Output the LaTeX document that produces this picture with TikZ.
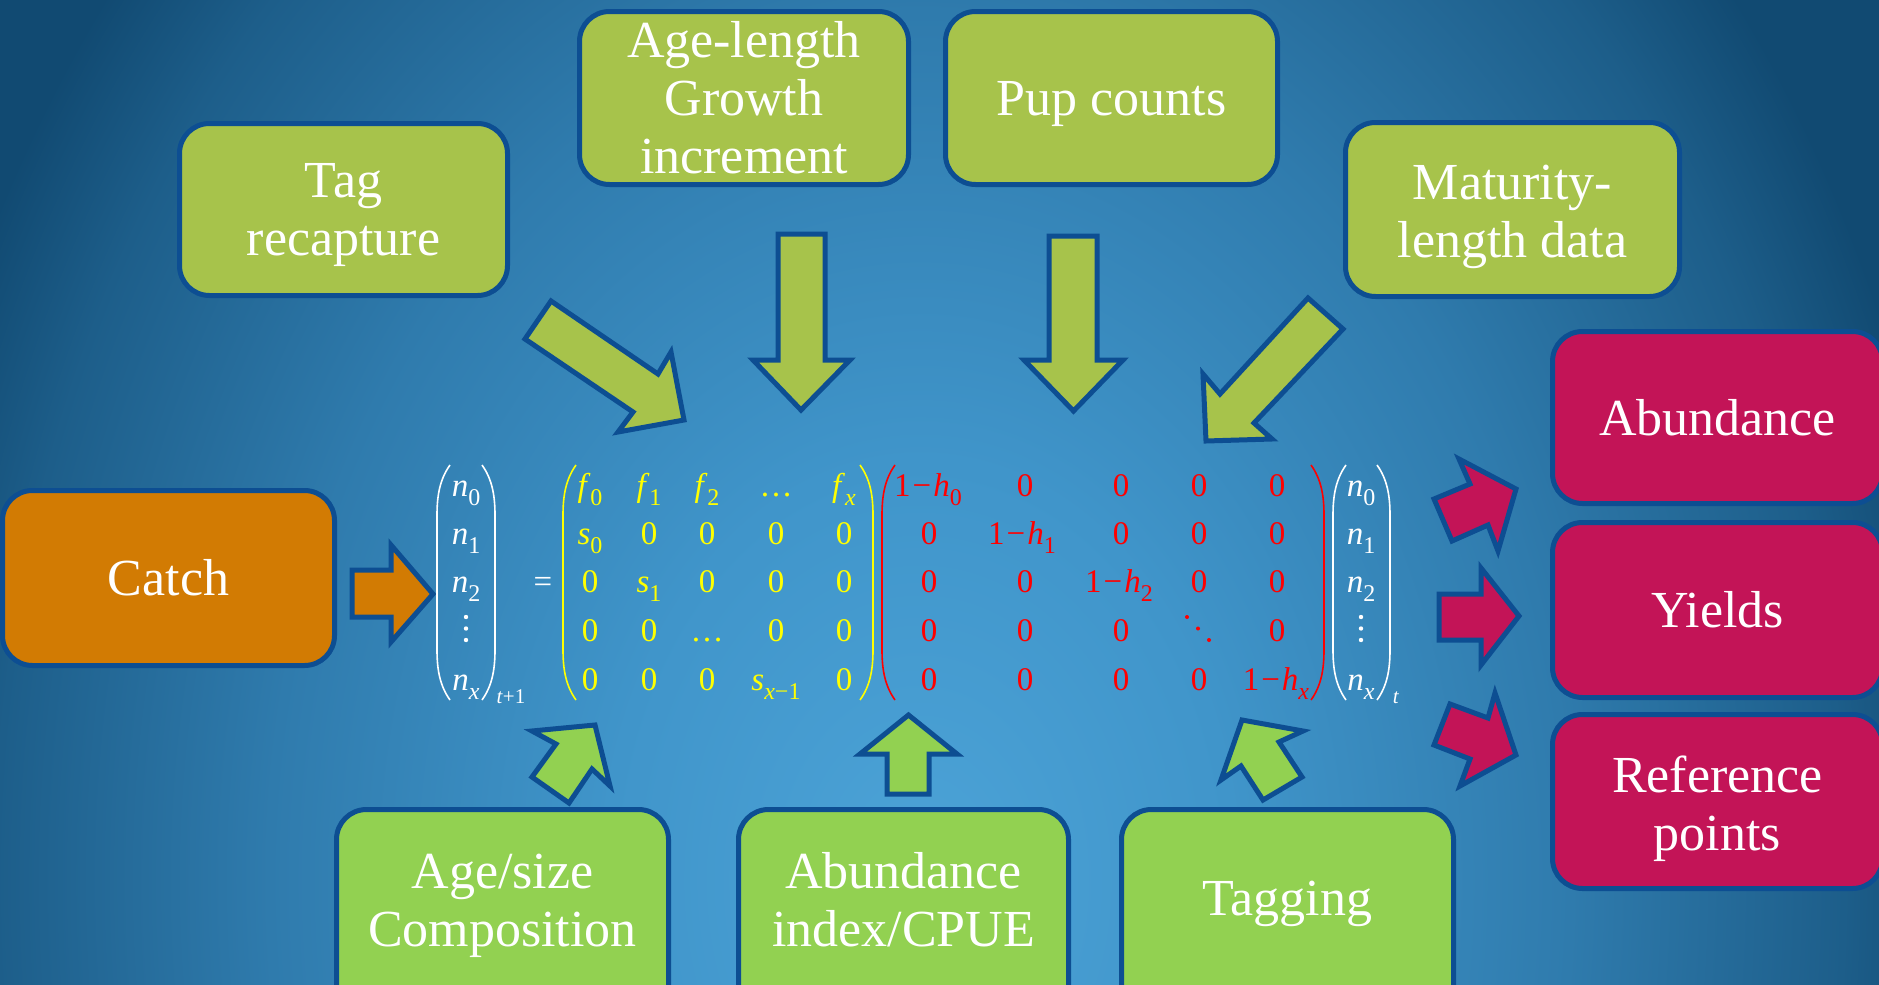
\documentclass[tikz,border=0pt]{standalone}
\usepackage{fontspec}
\setmainfont{Liberation Serif}
\definecolor{bgA}{HTML}{4CA3D7}
\definecolor{bgB}{HTML}{4095CA}
\definecolor{bgC}{HTML}{2F7BAD}
\definecolor{bgD}{HTML}{1D5E8A}
\definecolor{bgE}{HTML}{114A72}
\definecolor{bord}{HTML}{0D4E92}
\definecolor{gtop}{HTML}{A7C34B}
\definecolor{gbot}{HTML}{92D151}
\definecolor{orng}{HTML}{D27B03}
\definecolor{mag}{HTML}{C31457}
\definecolor{yel}{HTML}{FFFF00}
\definecolor{rd}{HTML}{FF0000}
\pgfdeclareradialshading{bgshade}{\pgfpoint{0bp}{0bp}}{color(0bp)=(bgA); color(7.5bp)=(bgB); color(15.5bp)=(bgC); color(22bp)=(bgD); color(25bp)=(bgE); color(50bp)=(bgE)}
\newcommand{\sbs}[2]{\textit{#1}\raisebox{-0.3em}{\fontsize{24}{24}\selectfont #2}}
\newcommand{\myLpar}[4]{\draw[#4, line width=1.6pt] (#1+13,#2) .. controls (#1+3,#2+14) and (#1,#2+30) .. (#1,#2+50) -- (#1,#3-50) .. controls (#1,#3-30) and (#1+3,#3-14) .. (#1+13,#3);}
\newcommand{\myRpar}[4]{\draw[#4, line width=1.6pt] (#1-13,#2) .. controls (#1-3,#2+14) and (#1,#2+30) .. (#1,#2+50) -- (#1,#3-50) .. controls (#1,#3-30) and (#1-3,#3-14) .. (#1-13,#3);}
\tikzset{
  box/.style={draw=bord, line width=5pt, rounded corners=30pt, text=white, align=center, inner sep=0pt, font=\fontsize{52}{58}\selectfont},
  txt/.style={text=white, align=center, inner sep=0pt, font=\fontsize{52}{58}\selectfont},
  blk/.style={draw=bord, line width=5pt, line join=miter},
  ent/.style={anchor=base, inner sep=0pt, font=\fontsize{33}{36}\selectfont},
  wht/.style={ent, text=white},
  yl/.style={ent, text=yel},
  rr/.style={ent, text=rd},
}
\begin{document}
\begin{tikzpicture}[x=1pt,y=-1pt]
\useasboundingbox (0,0) rectangle (1879,985);
\clip (0,0) rectangle (1879,985);
\fill[bgE] (0,0) rectangle (1879,985);
\shade[shading=bgshade] (920,880) ellipse [x radius=1050, y radius=1400];

% top boxes
\node[box, fill=gtop, minimum width=328pt, minimum height=172pt] (tagbox) at (343.5,209.5) {};
\node[txt] (tag) at (343.5,215.5) {Tag\\recapture};
\node[box, fill=gtop, minimum width=329pt, minimum height=173pt] (agel) at (744,98) {Age-length\\Growth\\increment};
\node[box, fill=gtop, minimum width=332pt, minimum height=173pt] (pupbox) at (1111.5,98) {};
\node[txt] (pup) at (1111.5,104) {Pup counts};
\node[box, fill=gtop, minimum width=334pt, minimum height=174pt] (matbox) at (1512.5,209.5) {};
\node[txt] (mat) at (1512.5,216.5) {Maturity-\\length data};
% catch
\node[box, fill=orng, minimum width=332pt, minimum height=175pt] (catch) at (168.5,578) {Catch};
% outputs
\node[box, fill=mag, minimum width=330pt, minimum height=172pt] (abund) at (1717.5,417.5) {Abundance};
\node[box, fill=mag, minimum width=330pt, minimum height=175pt] (yields) at (1717.5,610) {Yields};
\node[box, fill=mag, minimum width=330pt, minimum height=174pt] (refbox) at (1717.5,801.5) {};
\node[txt] (refp) at (1717.5,808.5) {Reference\\points};
% bottom boxes
\node[box, fill=gbot, minimum width=332pt, minimum height=220pt] (agebox) at (502.5,919.5) {};
\node[box, fill=gbot, minimum width=330pt, minimum height=220pt] (abibox) at (903.5,919.5) {};
\node[box, fill=gbot, minimum width=332pt, minimum height=220pt] (tgbox) at (1287.5,919.5) {};
\node[txt] (age) at (502.5,906) {Age/size\\Composition};
\node[txt] (abi) at (903.5,900) {Abundance\\index/CPUE};
\node[txt] (tgg) at (1287.5,904) {Tagging};

% block arrows, top
\draw[blk, fill=gtop] (551,301) -- (525,339) -- (633,412) -- (618,432) -- (684,420) -- (671,352) -- (658,374) -- cycle;
\draw[blk, fill=gtop] (778,234) -- (778,360) -- (753,360) -- (801,410) -- (850,360) -- (825,360) -- (825,234) -- cycle;
\draw[blk, fill=gtop] (1049,236) -- (1049,360) -- (1024,360) -- (1073.5,411) -- (1123,360) -- (1097,360) -- (1097,236) -- cycle;
\draw[blk, fill=gtop] (1308,298) -- (1343,329) -- (1254,423) -- (1272,439) -- (1206,441) -- (1203,374) -- (1220,394) -- cycle;
% catch arrow
\draw[blk, fill=orng] (352,570) -- (391,570) -- (391,545) -- (433,594) -- (391,642) -- (391,617) -- (352,617) -- cycle;
% bottom arrows
\draw[blk, fill=gbot] (595,725) -- (532,731) -- (556,744) -- (532,777) -- (569,803) -- (592,769) -- (610,786) -- cycle;
\draw[blk, fill=gbot] (908.5,715) -- (957,754) -- (929,754) -- (929,794) -- (887,794) -- (887,754) -- (860,754) -- cycle;
\draw[blk, fill=gbot] (1242,720) -- (1303,731) -- (1279,742) -- (1302,777) -- (1263,800) -- (1241,766) -- (1221,780) -- cycle;
% output arrows
\draw[blk, fill=mag] (1516,489) -- (1498,551) -- (1488,525) -- (1452,541) -- (1434,499) -- (1470,484) -- (1459,459) -- cycle;
\draw[blk, fill=mag] (1519,616) -- (1481,665) -- (1481,640) -- (1439,640) -- (1439,594) -- (1481,594) -- (1481,568) -- cycle;
\draw[blk, fill=mag] (1516,755) -- (1460,786) -- (1470,759) -- (1434,745) -- (1450,704) -- (1488,718) -- (1495,693) -- cycle;

% matrix equation
\myLpar{437}{465}{700}{white}
\myRpar{495}{465}{700}{white}
\myLpar{563}{465}{700}{yel}
\myRpar{873}{465}{700}{yel}
\myLpar{882}{465}{700}{rd}
\myRpar{1324}{465}{700}{rd}
\myLpar{1333}{465}{700}{white}
\myRpar{1390}{465}{700}{white}

\node[wht] (l1) at (466,496) {\sbs{n}{0}};
\node[wht] (l2) at (466,544) {\sbs{n}{1}};
\node[wht] (l3) at (466,592) {\sbs{n}{2}};
\node[wht] (l5) at (466,690) {\sbs{n}{\textit{x}}};
\fill[white] (466,617) circle (2.2) (466,628.5) circle (2.2) (466,640) circle (2.2);
\node[ent, text=white, font=\fontsize{21}{21}\selectfont] (tsub) at (511,703) {\textit{t}+1};
\node[wht] (eq) at (543,592) {=};

\node[wht] (r1) at (1361,496) {\sbs{n}{0}};
\node[wht] (r2) at (1361,544) {\sbs{n}{1}};
\node[wht] (r3) at (1361,592) {\sbs{n}{2}};
\node[wht] (r5) at (1361,690) {\sbs{n}{\textit{x}}};
\fill[white] (1361,617) circle (2.2) (1361,628.5) circle (2.2) (1361,640) circle (2.2);
\node[ent, text=white, font=\fontsize{21}{21}\selectfont] (ttsub) at (1396,703) {\textit{t}};

% yellow matrix
\node[yl] (y11) at (590,496) {\sbs{f}{0}};
\node[yl] (y12) at (649,496) {\sbs{f}{1}};
\node[yl] (y13) at (707,496) {\sbs{f}{2}};
\node[yl] (y14) at (776,496) {…};
\node[yl] (y15) at (844,496) {\sbs{f}{\textit{x}}};
\node[yl] (y21) at (590,544) {\sbs{s}{0}};
\node[yl] (y22) at (649,544) {0};
\node[yl] (y23) at (707,544) {0};
\node[yl] (y24) at (776,544) {0};
\node[yl] (y25) at (844,544) {0};
\node[yl] (y31) at (590,592) {0};
\node[yl] (y32) at (649,592) {\sbs{s}{1}};
\node[yl] (y33) at (707,592) {0};
\node[yl] (y34) at (776,592) {0};
\node[yl] (y35) at (844,592) {0};
\node[yl] (y41) at (590,641) {0};
\node[yl] (y42) at (649,641) {0};
\node[yl] (y43) at (707,641) {…};
\node[yl] (y44) at (776,641) {0};
\node[yl] (y45) at (844,641) {0};
\node[yl] (y51) at (590,690) {0};
\node[yl] (y52) at (649,690) {0};
\node[yl] (y53) at (707,690) {0};
\node[yl] (y54) at (776,690) {\sbs{s}{\textit{x}−1}};
\node[yl] (y55) at (844,690) {0};

% red matrix
\node[rr] (h11) at (928,496) {1\kern2pt−\kern2pt\sbs{h}{0}};
\node[rr] (h12) at (1025,496) {0};
\node[rr] (h13) at (1121,496) {0};
\node[rr] (h14) at (1199,496) {0};
\node[rr] (h15) at (1277,496) {0};
\node[rr] (h21) at (929,544) {0};
\node[rr] (h22) at (1022,544) {1\kern2pt−\kern2pt\sbs{h}{1}};
\node[rr] (h23) at (1121,544) {0};
\node[rr] (h24) at (1199,544) {0};
\node[rr] (h25) at (1277,544) {0};
\node[rr] (h31) at (929,592) {0};
\node[rr] (h32) at (1025,592) {0};
\node[rr] (h33) at (1119,592) {1\kern2pt−\kern2pt\sbs{h}{2}};
\node[rr] (h34) at (1199,592) {0};
\node[rr] (h35) at (1277,592) {0};
\node[rr] (h41) at (929,641) {0};
\node[rr] (h42) at (1025,641) {0};
\node[rr] (h43) at (1121,641) {0};
\fill[rd] (1187,617) circle (2) (1198,628.5) circle (2) (1209,640) circle (2);
\node[rr] (h45) at (1277,641) {0};
\node[rr] (h51) at (929,690) {0};
\node[rr] (h52) at (1025,690) {0};
\node[rr] (h53) at (1121,690) {0};
\node[rr] (h54) at (1199,690) {0};
\node[rr] (h55) at (1276,690) {1\kern2pt−\kern2pt\sbs{h}{\textit{x}}};
\end{tikzpicture}
\end{document}
